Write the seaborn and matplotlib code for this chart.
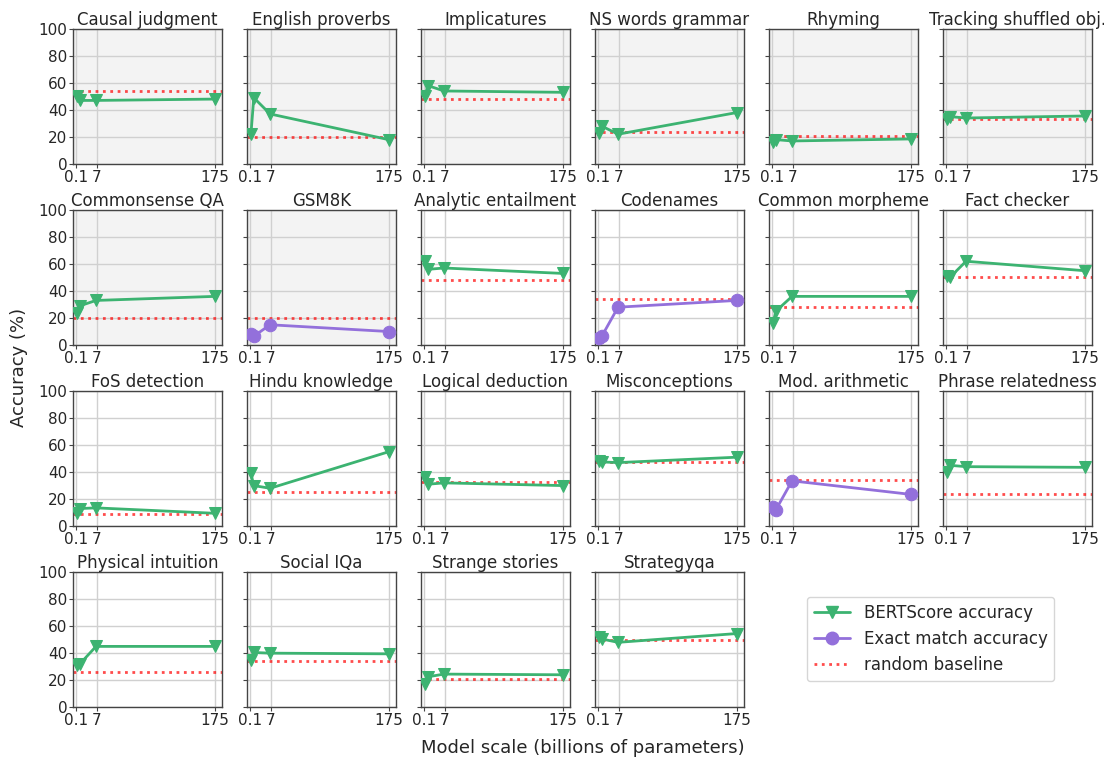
import numpy as np
import matplotlib
matplotlib.use("Agg")
import matplotlib.pyplot as plt
import seaborn as sns
from matplotlib.lines import Line2D

# model sizes (billions of parameters)
sizes = [0.35, 1.3, 6.7, 175]

tasks = [
    "Causal judgment", "English proverbs", "Implicatures", "NS words grammar",
    "Rhyming", "Tracking shuffled obj.",
    "Commonsense QA", "GSM8K", "Analytic entailment", "Codenames",
    "Common morpheme", "Fact checker",
    "FoS detection", "Hindu knowledge", "Logical deduction", "Misconceptions",
    "Mod. arithmetic", "Phrase relatedness",
    "Physical intuition", "Social IQa", "Strange stories", "Strategyqa",
]

# accuracy per task at each model size
scores = [
    [50, 47, 47, 48],
    [22, 49, 37, 18],
    [50, 58, 54, 53],
    [23, 28, 22, 38],
    [16, 18, 17, 18.5],
    [33, 35, 34, 35.5],
    [24, 29, 33, 36],
    [8.5, 6.5, 15, 10],
    [62, 56, 57, 53],
    [5.5, 6.5, 28, 33],
    [16, 25, 36, 36],
    [51, 50, 62, 55],
    [9.5, 13, 13.5, 9.5],
    [39, 30, 28, 55],
    [36, 31, 32, 30],
    [48.5, 47.5, 47, 51],
    [14, 12, 33.5, 23.5],
    [40, 45, 44, 43.5],
    [31.5, 32, 45, 45],
    [35, 40.5, 40, 39.5],
    [17, 22.5, 24.5, 24],
    [52, 50.5, 48, 54.5],
]

baseline = [54, 20, 48, 24, 21, 33,
            20, 20, 48, 34, 28, 50,
            9, 25, 33, 47.5, 34, 24,
            26, 34, 21, 50]

# "bert" = BERTScore accuracy, "exact" = exact match accuracy
metric = ["bert"] * 7 + ["exact", "bert", "exact"] + ["bert"] * 6 + ["exact"] + ["bert"] * 5

# panels drawn on grey background
n_grey = 8

green = "mediumseagreen"
purple = "mediumpurple"

sns.set_style("white")
plt.rcParams["font.family"] = ["DejaVu Sans"]

fig, axes = plt.subplots(4, 6, figsize=(11.04, 7.58), dpi=100, sharey=True)
fig.subplots_adjust(left=0.066, right=0.989, top=0.962, bottom=0.067,
                    wspace=0.168, hspace=0.34)

for i, ax in enumerate(axes.flat):
    if i >= len(tasks):
        ax.axis("off")
        continue
    if metric[i] == "bert":
        col, mk = green, "v"
    else:
        col, mk = purple, "o"
    if i < n_grey:
        ax.set_facecolor("#f3f3f3")
    ax.set_xscale("symlog", linthresh=10, linscale=0.31)
    ax.grid(True, color="#d0d0d0", linewidth=1)
    ax.set_axisbelow(True)
    ax.axhline(baseline[i], color="red", alpha=0.7, linestyle=":", linewidth=2, zorder=2)
    sns.lineplot(x=sizes, y=scores[i], ax=ax, color=col, marker=mk,
                 markersize=9, markeredgecolor=col, linewidth=2, zorder=3)
    ax.set_title(tasks[i], fontsize=12, pad=3)
    ax.set_xlim(-1, 212)
    ax.set_ylim(0, 100)
    ax.set_xticks([0.1, 7, 175])
    ax.set_xticklabels(["0.1", "7", "175"])
    ax.xaxis.set_minor_locator(matplotlib.ticker.NullLocator())
    ax.set_yticks([0, 20, 40, 60, 80, 100])
    ax.tick_params(labelsize=11, length=3, pad=1, bottom=True, left=True,
                   color="#444444")
    for s in ax.spines.values():
        s.set_color("#444444")
        s.set_linewidth(1)

fig.text(0.017, 0.515, "Accuracy (%)", rotation=90, va="center", ha="center", fontsize=13)
fig.text(0.528, 0.013, "Model scale (billions of parameters)", va="center", ha="center", fontsize=13)

handles = [
    Line2D([], [], color=green, marker="v", markersize=9, linewidth=2),
    Line2D([], [], color=purple, marker="o", markersize=9, linewidth=2),
    Line2D([], [], color="red", alpha=0.7, linestyle=":", linewidth=2),
]
labels = ["BERTScore accuracy", "Exact match accuracy", "random baseline"]
fig.legend(handles, labels, loc="center", bbox_to_anchor=(0.843, 0.157),
           fontsize=12, frameon=True, handlelength=2.2)

fig.savefig("out.png", dpi=100)
